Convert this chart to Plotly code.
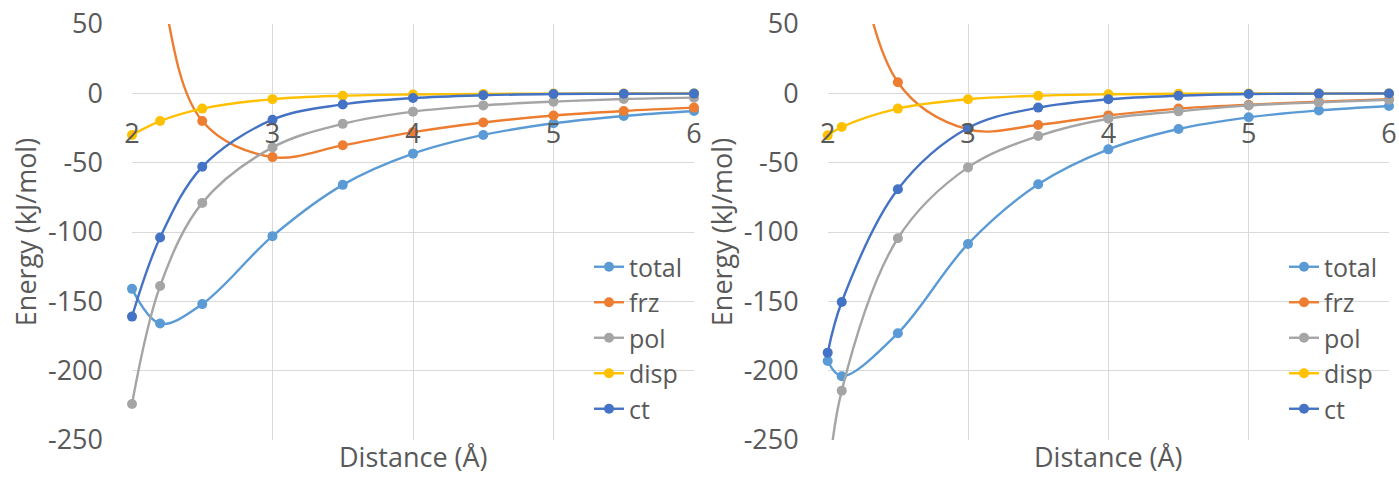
import plotly.graph_objects as go

# ---------------- data ----------------
series_names = ["total", "frz", "pol", "disp", "ct"]
series_colors = ["#5B9BD5", "#ED7D31", "#A5A5A5", "#FFC000", "#4472C4"]

left_distance = [2.0, 2.2, 2.5, 3.0, 3.5, 4.0, 4.5, 5.0, 5.5, 6.0]
left_total = [-141, -166, -152, -103, -66, -43.5, -30, -21.6, -16.3, -12.7]
left_frz = [280, 85, -20, -46, -37.5, -28, -21, -16, -12.7, -10.3]
left_pol = [-224, -139, -79, -39, -22, -13.2, -8.7, -6, -4.1, -3.1]
left_disp = [-30, -20, -11, -4.2, -1.7, -0.8, -0.4, -0.2, -0.1, -0.05]
left_ct = [-161, -104, -53, -19, -8, -3.4, -1.4, -0.5, -0.3, -0.2]

right_distance = [2.0, 2.1, 2.5, 3.0, 3.5, 4.0, 4.5, 5.0, 5.5, 6.0]
right_total = [-193, -204, -173, -108.6, -65.6, -40.4, -25.7, -17.3, -12.3, -9.1]
right_frz = [350, 180, 8, -26, -22.8, -15.9, -11, -8.2, -6, -4.3]
right_pol = [-285, -214.4, -104.5, -53.4, -30.8, -18.3, -13, -8.7, -6.5, -4.6]
right_disp = [-30.3, -24.3, -11, -4.3, -1.7, -0.7, -0.3, -0.15, -0.1, -0.05]
right_ct = [-187, -150.5, -69.2, -25, -10.3, -4.3, -1.7, -0.5, -0.2, -0.1]

x_ticks = [2, 3, 4, 5, 6]
y_ticks = [50, 0, -50, -100, -150, -200, -250]
y_tick_labels = ["50", "0", "-50", "-100", "-150", "-200", "-250"]
x_title = "Distance (Å)"
y_title = "Energy (kJ/mol)"

# ---------------- figure ----------------
W, H = 1399, 477
FONT = "'Open Sans', Lato, sans-serif"
TXT = "#595959"
GRID = "#D9D9D9"
FS = 27
LFS = 25

fig = go.Figure()

panels = [
    ("x", "y", "legend", left_distance, [left_total, left_frz, left_pol, left_disp, left_ct]),
    ("x2", "y2", "legend2", right_distance, [right_total, right_frz, right_pol, right_disp, right_ct]),
]
for xa, ya, leg, xs, ys_list in panels:
    for name, color, ys in zip(series_names, series_colors, ys_list):
        fig.add_trace(go.Scatter(
            x=xs, y=ys, name=name, mode="lines+markers",
            line=dict(color=color, width=2.4, shape="spline", smoothing=1),
            marker=dict(color=color, size=10),
            xaxis=xa, yaxis=ya, legend=leg, cliponaxis=False,
        ))

y_dom = [1 - 440 / H, 1 - 24 / H]
y_min, y_max = -250, 50
x_pos = y_dom[0] + (0 - y_min) / (y_max - y_min) * (y_dom[1] - y_dom[0])

x_doms = [[132 / W, 694 / W], [827.7 / W, 1389 / W]]

common_x = dict(range=[2, 6], tickvals=x_ticks, showgrid=True, gridcolor=GRID, gridwidth=1,
                zeroline=False, showline=False, ticks="", anchor="free", position=x_pos,
                tickfont=dict(family=FONT, size=FS, color=TXT), ticklabelstandoff=22,
                automargin=False)
common_y = dict(range=[y_min, y_max], tickvals=y_ticks, ticktext=y_tick_labels,
                showgrid=True, gridcolor=GRID, gridwidth=1, zeroline=True, zerolinecolor=GRID,
                zerolinewidth=1, showline=False, ticks="", domain=y_dom,
                tickfont=dict(family=FONT, size=FS, color=TXT), ticklabelstandoff=28,
                title=dict(text=y_title, font=dict(family=FONT, size=FS, color=TXT), standoff=3),
                automargin=False)

fig.update_layout(
    width=W, height=H,
    margin=dict(l=0, r=0, t=0, b=0),
    paper_bgcolor="white", plot_bgcolor="white",
    font=dict(family=FONT, color=TXT),
    xaxis=dict(domain=x_doms[0], **common_x),
    xaxis2=dict(domain=x_doms[1], **common_x),
    yaxis=dict(anchor="x", **common_y),
    yaxis2=dict(anchor="x2", **common_y),
    legend=dict(x=589 / W, y=1 - 244 / H, xanchor="left", yanchor="top",
                font=dict(family=FONT, size=LFS, color=TXT), bgcolor="rgba(0,0,0,0)"),
    legend2=dict(x=1284 / W, y=1 - 244 / H, xanchor="left", yanchor="top",
                 font=dict(family=FONT, size=LFS, color=TXT), bgcolor="rgba(0,0,0,0)"),
    showlegend=True,
)

for dom in x_doms:
    fig.add_annotation(text=x_title, xref="paper", yref="paper",
                       x=(dom[0] + dom[1]) / 2, y=0, xanchor="center", yanchor="bottom",
                       showarrow=False, font=dict(family=FONT, size=FS, color=TXT))

fig.write_html("out.html", config={"displayModeBar": False},
               post_script="document.body.style.margin='0';document.body.style.overflow='hidden';")
